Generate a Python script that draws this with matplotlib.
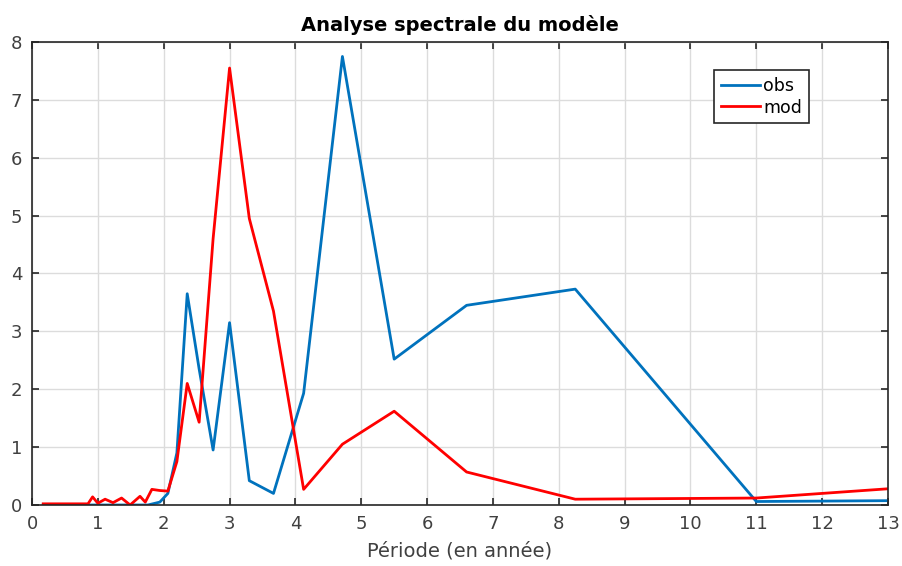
import matplotlib.pyplot as plt

# periods (years) of the spectral estimates
periods_obs = [0.17, 0.92, 1.0, 1.11, 1.23, 1.36, 1.49, 1.64, 1.76, 1.833, 1.941,
               2.063, 2.2, 2.357, 2.538, 2.75, 3.0, 3.3, 3.667, 4.125, 4.714,
               5.5, 6.6, 8.25, 11.0, 16.5]
obs = [0.0, 0.0, 0.0, 0.0, 0.0, 0.0, 0.0, 0.0, 0.0, 0.02, 0.05,
       0.2, 0.9, 3.65, 2.35, 0.95, 3.15, 0.42, 0.2, 1.93, 7.75,
       2.52, 3.45, 3.73, 0.06, 0.1]

periods_mod = [0.17, 0.85, 0.92, 1.0, 1.11, 1.23, 1.36, 1.49, 1.64, 1.72, 1.82,
               1.941, 2.063, 2.2, 2.357, 2.538, 2.75, 3.0, 3.3, 3.667, 4.125,
               4.714, 5.5, 6.6, 8.25, 11.0, 16.5]
mod = [0.02, 0.02, 0.14, 0.03, 0.1, 0.04, 0.12, 0.0, 0.15, 0.05, 0.27,
       0.25, 0.24, 0.75, 2.1, 1.43, 4.6, 7.55, 4.95, 3.35, 0.27,
       1.05, 1.62, 0.57, 0.1, 0.12, 0.56]

x_ticks = list(range(0, 14))
y_ticks = list(range(0, 9))

fig = plt.figure(figsize=(9.02, 5.66), dpi=100)
ax = fig.add_axes([0.0355, 0.1078, 0.949, 0.818])

ax.plot(periods_obs, obs, color="#0072BD", linewidth=2, label="obs")
ax.plot(periods_mod, mod, color="#FF0000", linewidth=2, label="mod")

ax.set_xlim(0, 13)
ax.set_ylim(0, 8)
ax.set_xticks(x_ticks)
ax.set_yticks(y_ticks)
ax.grid(True, color="#dcdcdc", linewidth=1)
ax.set_axisbelow(True)
ax.tick_params(direction="in", top=True, right=True, length=5,
               labelsize=13, colors="#262626", width=1.2, pad=7,
               labelcolor="#404040")
for side in ax.spines.values():
    side.set_color("#262626")
    side.set_linewidth(1.2)

ax.set_title("Analyse spectrale du modèle", fontsize=14, fontweight="bold", pad=8)
ax.set_xlabel("Période (en année)", fontsize=14, color="#404040", labelpad=6)

leg = ax.legend(loc="upper left", bbox_to_anchor=(0.787, 0.958), fontsize=12.5,
                handlelength=2.2, handletextpad=0.2, borderpad=0.4,
                labelspacing=0.2, fancybox=False, framealpha=1)
leg.get_frame().set_edgecolor("#262626")
leg.get_frame().set_linewidth(1.2)

fig.savefig("out.png", dpi=100)
